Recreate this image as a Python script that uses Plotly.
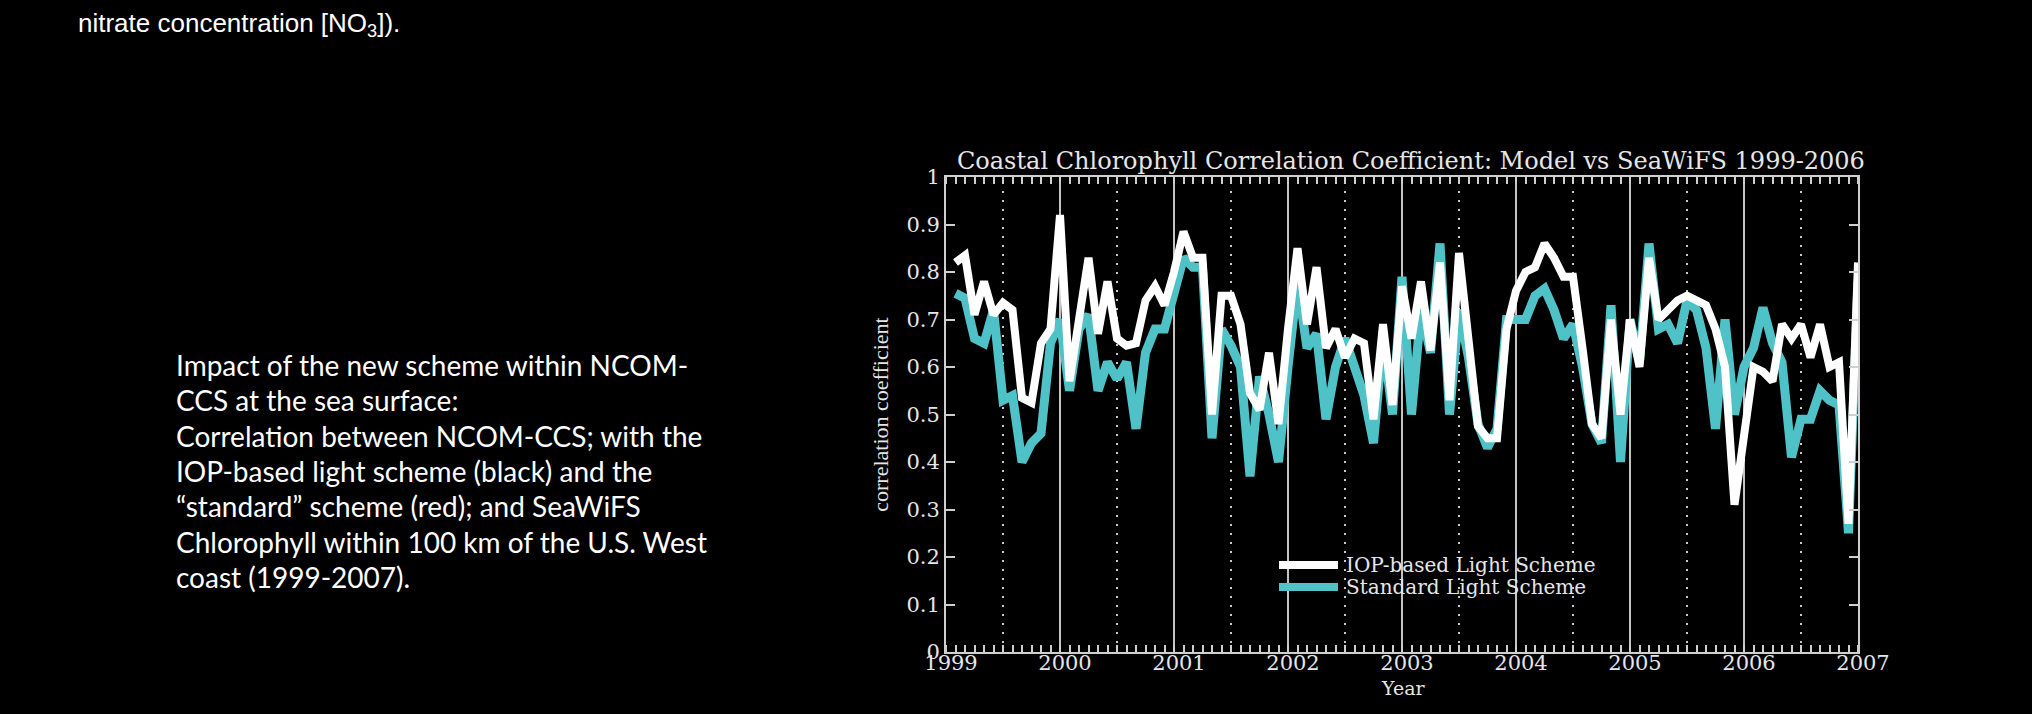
import plotly.graph_objects as go

# Monthly correlation coefficients, Jan 1999 .. Dec 2006
years = [1999, 2000, 2001, 2002, 2003, 2004, 2005, 2006, 2007]
half_years = [1999.5, 2000.5, 2001.5, 2002.5, 2003.5, 2004.5, 2005.5, 2006.5]
n_months = 96
month_pos = [1999 + (i + 1) / 12 for i in range(n_months)]

iop_scheme = [
    0.82, 0.835, 0.71, 0.78, 0.71, 0.735, 0.72, 0.535, 0.525, 0.65, 0.68, 0.92,
    0.57, 0.70, 0.83, 0.67, 0.78, 0.66, 0.645, 0.65, 0.74, 0.77, 0.73, 0.80,
    0.885, 0.83, 0.83, 0.50, 0.75, 0.75, 0.69, 0.545, 0.51, 0.63, 0.48, 0.68,
    0.85, 0.69, 0.81, 0.64, 0.68, 0.62, 0.66, 0.65, 0.49, 0.69, 0.52, 0.77,
    0.66, 0.78, 0.635, 0.82, 0.53, 0.84, 0.65, 0.475, 0.45, 0.45, 0.68, 0.76,
    0.80, 0.81, 0.86, 0.83, 0.79, 0.79, 0.64, 0.48, 0.45, 0.70, 0.50, 0.70,
    0.60, 0.83, 0.70, 0.72, 0.74, 0.75, 0.74, 0.73, 0.68, 0.60, 0.31, 0.45,
    0.60, 0.59, 0.57, 0.69, 0.66, 0.69, 0.62, 0.69, 0.60, 0.61, 0.27, 0.82,
]

standard_scheme = [
    0.755, 0.745, 0.66, 0.65, 0.72, 0.53, 0.54, 0.40, 0.44, 0.46, 0.65, 0.70,
    0.55, 0.68, 0.71, 0.55, 0.61, 0.575, 0.61, 0.47, 0.63, 0.68, 0.68, 0.75,
    0.83, 0.81, 0.81, 0.45, 0.68, 0.645, 0.60, 0.37, 0.58, 0.50, 0.40, 0.60,
    0.78, 0.64, 0.67, 0.49, 0.60, 0.66, 0.60, 0.54, 0.44, 0.66, 0.50, 0.79,
    0.50, 0.72, 0.63, 0.86, 0.50, 0.72, 0.62, 0.48, 0.43, 0.47, 0.70, 0.70,
    0.70, 0.75, 0.765, 0.72, 0.66, 0.69, 0.60, 0.48, 0.44, 0.73, 0.40, 0.70,
    0.61, 0.86, 0.68, 0.69, 0.65, 0.74, 0.72, 0.64, 0.47, 0.70, 0.50, 0.60,
    0.64, 0.725, 0.65, 0.61, 0.41, 0.49, 0.49, 0.55, 0.53, 0.52, 0.25, 0.78,
]

y_ticks = [0, 0.1, 0.2, 0.3, 0.4, 0.5, 0.6, 0.7, 0.8, 0.9, 1]
y_tick_text = ["0", "0.1", "0.2", "0.3", "0.4", "0.5", "0.6", "0.7", "0.8", "0.9", "1"]

series_names = ["IOP-based Light Scheme", "Standard Light Scheme"]
caption_lines = [
    "Impact of the new scheme within NCOM-",
    "CCS at the sea surface:",
    "Correlation between NCOM-CCS; with the",
    "IOP-based light scheme (black) and the",
    "\u201cstandard\u201d scheme (red); and SeaWiFS",
    "Chlorophyll within 100 km of the U.S. West",
    "coast (1999-2007).",
]

W, H = 2032, 714
L, R, T, B = 946, 1858, 177, 652          # plot area in pixels
TEAL = "#4fc2c7"
AXIS = "#cfcfcf"
TXT = "#e6e6e6"
SERIF = "DejaVu Serif"


def px_x(p):
    return (p - L) / (R - L)


def px_y(p):
    return (B - p) / (B - T)


fig = go.Figure()
fig.add_trace(go.Scatter(x=month_pos, y=standard_scheme, mode="lines",
                         line=dict(color=TEAL, width=9), name=series_names[1],
                         showlegend=False))
fig.add_trace(go.Scatter(x=month_pos, y=iop_scheme, mode="lines",
                         line=dict(color="white", width=8), name=series_names[0],
                         showlegend=False))

# dotted mid-year guides
for hy in half_years:
    fig.add_shape(type="line", x0=hy, x1=hy, y0=0, y1=1, xref="x", yref="y",
                  line=dict(color="#c8c8c8", width=2, dash="2px,7px"), layer="below")

fig.update_layout(
    width=W, height=H,
    margin=dict(l=L, r=W - R, t=T, b=H - B, pad=0),
    paper_bgcolor="black", plot_bgcolor="black",
    showlegend=False,
)

fig.update_xaxes(
    range=[1999, 2007],
    tickvals=years, ticktext=[str(y) for y in years],
    tickfont=dict(family=SERIF, size=21, color=TXT),
    ticks="", showgrid=True, gridcolor="#c4c4c4", gridwidth=1.5,
    showline=True, linecolor=AXIS, linewidth=2, mirror="allticks",
    zeroline=False,
    minor=dict(tick0=1999, dtick=1 / 12, ticks="inside", ticklen=7,
               tickwidth=1.5, tickcolor=AXIS, showgrid=False),
    ticklabelstandoff=-9,
    ticklabelshift=5,
)
fig.update_yaxes(
    range=[0, 1],
    tickvals=y_ticks, ticktext=y_tick_text,
    tickfont=dict(family=SERIF, size=21, color=TXT),
    ticks="inside", ticklen=9, tickwidth=1.5, tickcolor=AXIS,
    showgrid=False, zeroline=False,
    showline=True, linecolor=AXIS, linewidth=2, mirror="allticks",
    title=dict(text="correlation coefficient",
               font=dict(family="Liberation Serif", size=22, color=TXT), standoff=12),
)

# x-axis title
fig.add_annotation(text="Year", xref="paper", yref="paper",
                   x=px_x(1403), y=px_y(688), xanchor="center", yanchor="middle",
                   showarrow=False, font=dict(family=SERIF, size=19, color=TXT))

# chart title
fig.add_annotation(text="Coastal Chlorophyll Correlation Coefficient: Model vs SeaWiFS 1999-2006",
                   xref="paper", yref="paper", x=px_x(1411), y=px_y(161),
                   xanchor="center", yanchor="middle", showarrow=False,
                   font=dict(family=SERIF, size=24, color=TXT))

# legend drawn inside the plot
legend_rows = [(565, "white", series_names[0]), (587, TEAL, series_names[1])]
for ypix, col, label in legend_rows:
    fig.add_shape(type="line", xref="paper", yref="paper",
                  x0=px_x(1279), x1=px_x(1338), y0=px_y(ypix), y1=px_y(ypix),
                  line=dict(color=col, width=8))
    fig.add_annotation(text=label, xref="paper", yref="paper",
                       x=px_x(1344), y=px_y(ypix), xanchor="left", yanchor="middle",
                       showarrow=False, font=dict(family=SERIF, size=20, color=TXT))

# caption on the left
for i, line in enumerate(caption_lines):
    fig.add_annotation(text=line, xref="paper", yref="paper",
                       x=px_x(174), y=px_y(365 + i * 35.3), xanchor="left", yanchor="middle",
                       showarrow=False, align="left",
                       font=dict(family="Lato", size=28, color="white"))

# heading fragment at the top left
fig.add_annotation(text="nitrate concentration [NO<sub>3</sub>]).", xref="paper", yref="paper",
                   x=px_x(76), y=px_y(24), xanchor="left", yanchor="middle",
                   showarrow=False,
                   font=dict(family="Liberation Sans", size=26, color="white"))

fig.write_html("out.html")
